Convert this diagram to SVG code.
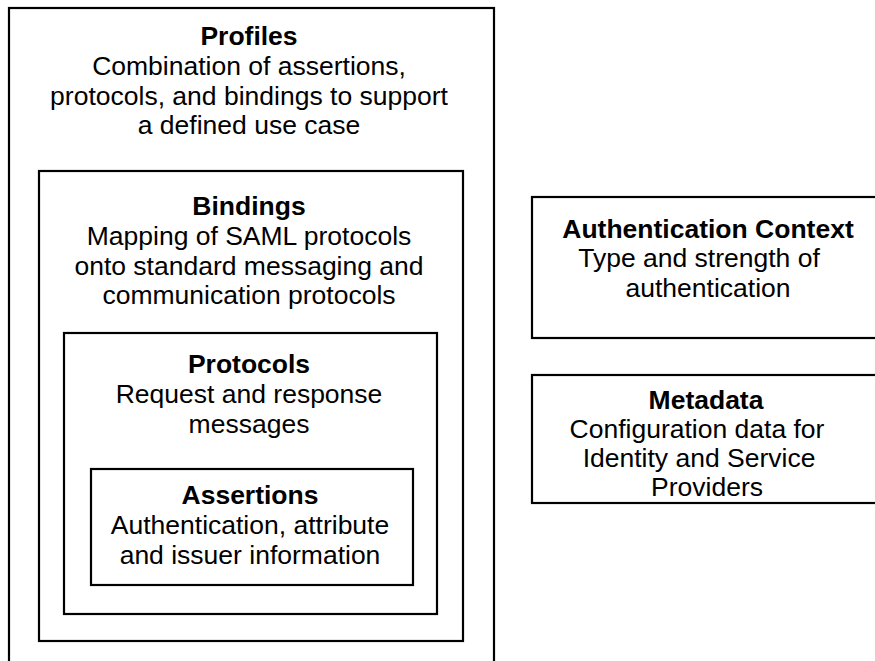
<svg xmlns="http://www.w3.org/2000/svg" width="875" height="661" viewBox="0 0 875 661">
  <style>
    .box { fill: #ffffff; stroke: #000000; stroke-width: 2.2; }
    text { font-family: "Liberation Sans", Arial, sans-serif; font-size: 26.5px; fill: #000000; text-anchor: middle; }
    .title { font-weight: bold; }
  </style>
  <rect width="875" height="661" fill="#ffffff"/>

  <!-- SAML layers, nested -->
  <g id="profiles">
    <rect class="box" x="9" y="8" width="485" height="700"/>
    <text class="title" x="249" y="45">Profiles</text>
    <text x="249" y="75">Combination of assertions,</text>
    <text x="249" y="105">protocols, and bindings to support</text>
    <text x="249" y="134">a defined use case</text>
  </g>

  <g id="bindings">
    <rect class="box" x="39" y="171" width="424" height="470"/>
    <text class="title" x="249" y="215">Bindings</text>
    <text x="249" y="245">Mapping of SAML protocols</text>
    <text x="249" y="275">onto standard messaging and</text>
    <text x="249" y="304">communication protocols</text>
  </g>

  <g id="protocols">
    <rect class="box" x="64" y="333" width="373" height="281"/>
    <text class="title" x="249" y="373">Protocols</text>
    <text x="249" y="403">Request and response</text>
    <text x="249" y="433">messages</text>
  </g>

  <g id="assertions">
    <rect class="box" x="91" y="469" width="322" height="116"/>
    <text class="title" x="250" y="504">Assertions</text>
    <text x="250" y="534">Authentication, attribute</text>
    <text x="250" y="564">and issuer information</text>
  </g>

  <!-- Supporting specifications -->
  <g id="authn-context">
    <rect class="box" x="532" y="197" width="360" height="141"/>
    <text class="title" x="708" y="238">Authentication Context</text>
    <text x="699" y="267">Type and strength of</text>
    <text x="708" y="297">authentication</text>
  </g>

  <g id="metadata">
    <rect class="box" x="532" y="375" width="360" height="128"/>
    <text class="title" x="706" y="409">Metadata</text>
    <text x="697" y="438">Configuration data for</text>
    <text x="699" y="467">Identity and Service</text>
    <text x="707" y="496">Providers</text>
  </g>

  <g id="connectors"/>
</svg>
